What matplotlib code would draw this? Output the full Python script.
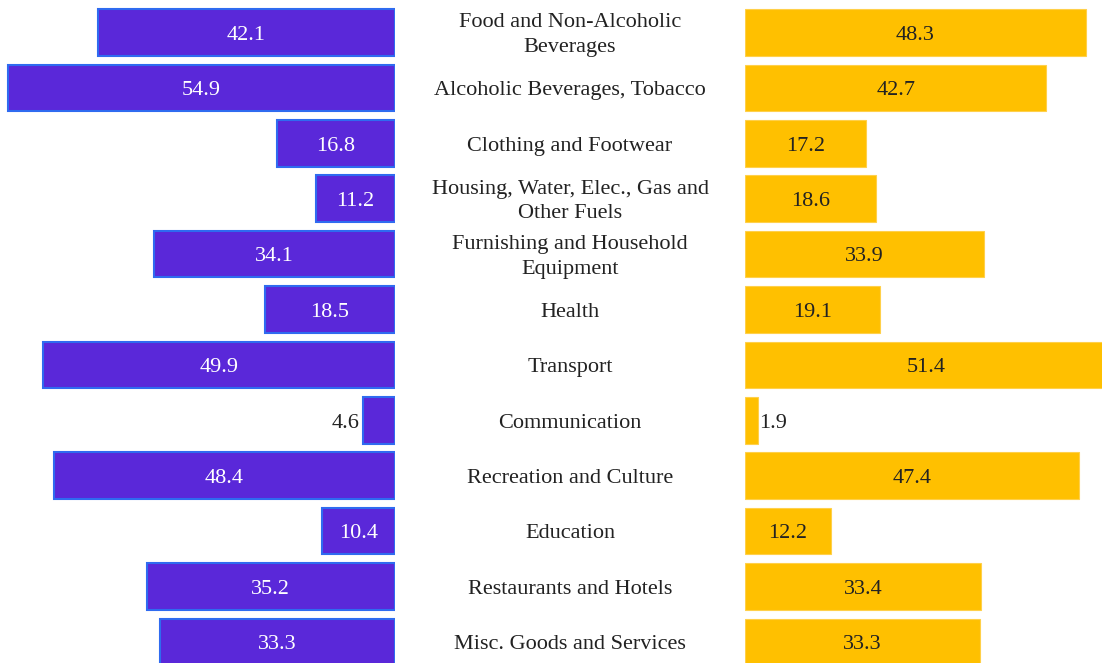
import matplotlib.pyplot as plt
from matplotlib.transforms import blended_transform_factory

categories = [
    "Food and Non-Alcoholic\nBeverages",
    "Alcoholic Beverages, Tobacco",
    "Clothing and Footwear",
    "Housing, Water, Elec., Gas and\nOther Fuels",
    "Furnishing and Household\nEquipment",
    "Health",
    "Transport",
    "Communication",
    "Recreation and Culture",
    "Education",
    "Restaurants and Hotels",
    "Misc. Goods and Services",
]
left_values = [42.1, 54.9, 16.8, 11.2, 34.1, 18.5, 49.9, 4.6, 48.4, 10.4, 35.2, 33.3]
right_values = [48.3, 42.7, 17.2, 18.6, 33.9, 19.1, 51.4, 1.9, 47.4, 12.2, 33.4, 33.3]

plt.rcParams['font.family'] = ['Liberation Serif', 'DejaVu Serif']

W, H = 1102, 663
fig = plt.figure(figsize=(W / 100, H / 100), dpi=100)

purple = "#5a28d9"
purple_edge = "#2f6bf0"
yellow = "#ffc000"

# left panel: pixels 0..395, right panel: 745..1102
ax_l = fig.add_axes([0, 0, 395 / W, 1])
ax_r = fig.add_axes([745 / W, 0, (W - 745) / W, 1])

y = list(range(len(categories)))
ylim = (11.38, -0.587)

ax_l.barh(y, left_values, height=0.84, color=purple, edgecolor=purple_edge, linewidth=1.5)
ax_l.set_xlim(56.0, 0)
ax_l.set_ylim(*ylim)

ax_r.barh(y, right_values, height=0.84, color=yellow, edgecolor="#ffd04a", linewidth=0.8)
ax_r.set_xlim(0, 50.6)
ax_r.set_ylim(*ylim)

for ax in (ax_l, ax_r):
    ax.axis("off")

fs = 16
dy = 0.05
for i, v in enumerate(left_values):
    if v < 8:
        ax_l.text(v + 0.4, i + dy, f"{v}", ha="right", va="center", fontsize=fs, color="#222222")
    else:
        ax_l.text(v / 2, i + dy, f"{v}", ha="center", va="center", fontsize=fs, color="white")

for i, v in enumerate(right_values):
    if v < 8:
        ax_r.text(v + 0.15, i + dy, f"{v}", ha="left", va="center", fontsize=fs, color="#222222")
    else:
        ax_r.text(v / 2, i + dy, f"{v}", ha="center", va="center", fontsize=fs, color="#222222")

trans = blended_transform_factory(fig.transFigure, ax_l.transData)
for i, c in enumerate(categories):
    ax_l.text(570 / W, i + dy, c, transform=trans, ha="center", va="center",
              fontsize=fs, color="#222222", linespacing=1.4, clip_on=False)

fig.savefig("out.png", dpi=100)
